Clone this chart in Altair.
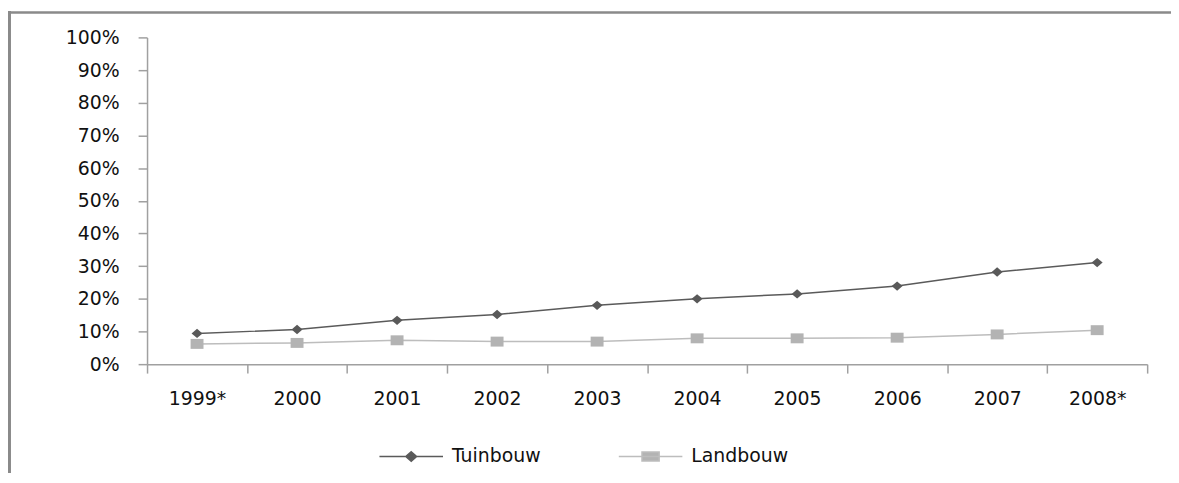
import altair as alt
import pandas as pd

years = ["1999*", "2000", "2001", "2002", "2003", "2004", "2005", "2006", "2007", "2008*"]
tuinbouw = [0.094, 0.106, 0.134, 0.152, 0.180, 0.200, 0.215, 0.239, 0.282, 0.311]
landbouw = [0.062, 0.065, 0.073, 0.069, 0.069, 0.079, 0.079, 0.081, 0.091, 0.104]
series_names = ["Tuinbouw", "Landbouw"]
y_ticks = [0, 0.1, 0.2, 0.3, 0.4, 0.5, 0.6, 0.7, 0.8, 0.9, 1.0]

line_colors = ["#5a5a5a", "#bdbdbd"]
point_colors = ["#595959", "#b3b3b3"]
FONT = "DejaVu Sans"

rows = []
for i, yr in enumerate(years):
    rows.append({"year": yr, "series": "Tuinbouw", "value": tuinbouw[i]})
    rows.append({"year": yr, "series": "Landbouw", "value": landbouw[i]})
df = pd.DataFrame(rows)

x_enc = alt.X(
    "year:N", sort=years, bandPosition=0.5,
    scale=alt.Scale(type="band", paddingInner=0, paddingOuter=0),
    axis=alt.Axis(title=None, tickBand="extent", labelAngle=0, labelPadding=17,
                  tickSize=9, labelFontSize=19, labelFont=FONT, labelColor="#111"),
)
y_enc = alt.Y(
    "value:Q", scale=alt.Scale(domain=[0, 1]),
    axis=alt.Axis(title=None, values=y_ticks, format=".0%", labelPadding=19,
                  tickSize=9, labelFontSize=19, labelFont=FONT, labelColor="#111"),
)

base = alt.Chart(df)

diamond = "M0,-0.85L1,0L0,0.85L-1,0Z"
rect = "M-1,-0.77H1V0.77H-1Z"

layers = []
for name, lc, pc, shp, sz in zip(series_names, line_colors, point_colors, [diamond, rect], [121, 169]):
    sub = base.transform_filter(alt.datum.series == name)
    layers.append(sub.mark_line(strokeWidth=1.5, color=lc).encode(x=x_enc, y=y_enc))
    layers.append(sub.mark_point(shape=shp, filled=True, size=sz, color=pc, opacity=1)
                  .encode(x=x_enc, y=y_enc))

leg_paths = ["M-1,0H1M0,-0.15L0.17,0L0,0.15L-0.17,0Z",
             "M-1,0H1M-0.27,-0.14H0.27V0.14H-0.27Z"]
legend = alt.Legend(title=None, orient="none", legendX=233, legendY=389,
                    direction="horizontal", symbolSize=4096, symbolStrokeWidth=1.5,
                    labelFontSize=19, labelFont=FONT, labelColor="#111",
                    labelOffset=8, columnPadding=75)

legend_layer = base.mark_point(filled=True, clip=True, size=4096, opacity=1, strokeWidth=1.5).encode(
    x=alt.value(0), y=alt.value(5000),
    shape=alt.Shape("series:N", scale=alt.Scale(domain=series_names, range=leg_paths), legend=legend),
    color=alt.Color("series:N", scale=alt.Scale(domain=series_names, range=point_colors), legend=legend),
    stroke=alt.Stroke("series:N", scale=alt.Scale(domain=series_names, range=line_colors), legend=legend),
)

frame_data = alt.Data(values=[{"k": 1}])
frame_v = alt.Chart(frame_data).mark_rule(color="#8a8a8a", strokeWidth=3).encode(
    x=alt.value(-138.5), y=alt.value(-26.5), y2=alt.value(480))
frame_h = alt.Chart(frame_data).mark_rule(color="#8a8a8a", strokeWidth=2.5).encode(
    x=alt.value(-140), x2=alt.value(1100), y=alt.value(-25))

chart = alt.layer(frame_v, frame_h, *layers, legend_layer).properties(
    width=1007, height=329,
    autosize=alt.AutoSizeParams(type="none"),
    padding={"left": 140, "top": 28, "right": 24, "bottom": 108},
).configure_view(stroke=None).configure_axis(
    grid=False, domainColor="#a0a0a0", domainWidth=1.5, tickColor="#a0a0a0", tickWidth=1.5,
)

chart.save("out.html", embed_options={"renderer": "svg", "actions": False})
